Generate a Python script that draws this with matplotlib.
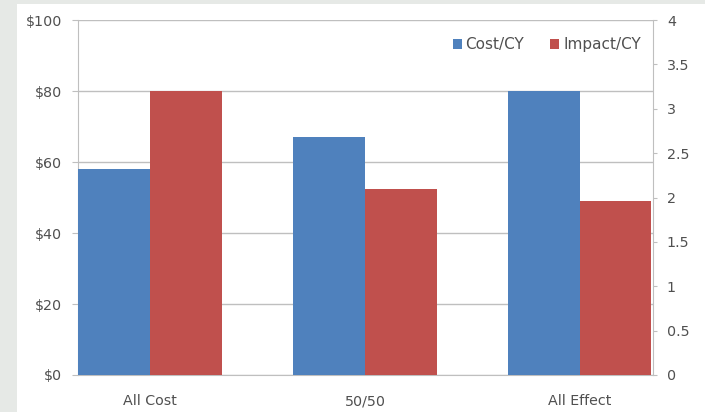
import matplotlib
matplotlib.use("Agg")
import matplotlib.pyplot as plt
from matplotlib.patches import Rectangle
import numpy as np

categories = ["All Cost", "50/50", "All Effect"]
cost_per_cy = [58, 67, 80]          # left axis, dollars
impact_per_cy = [3.2, 2.1, 1.96]    # right axis
left_ticks = [0, 20, 40, 60, 80, 100]
left_labels = ["$0", "$20", "$40", "$60", "$80", "$100"]
right_ticks = [0, 0.5, 1, 1.5, 2, 2.5, 3, 3.5, 4]
right_labels = ["0", "0.5", "1", "1.5", "2", "2.5", "3", "3.5", "4"]

BLUE = "#4F81BD"
RED = "#C0504D"
GRID = "#BFBFBF"
TXT = "#505050"
FS = 10.3
plt.rcParams['font.family'] = ['DejaVu Sans']

W, H = 705, 412
fig = plt.figure(figsize=(W / 100, H / 100), dpi=100)
fig.patch.set_facecolor("white")
fig.patches.append(Rectangle((0, 0), 17 / W, 1, transform=fig.transFigure,
                             facecolor="#E6E9E6", edgecolor="none", zorder=0))
fig.patches.append(Rectangle((0, 1 - 4 / H), 1, 4 / H, transform=fig.transFigure,
                             facecolor="#E6E9E6", edgecolor="none", zorder=0))

left, right, top, bottom = 78, 653, 20, 375
ax = fig.add_axes([left / W, 1 - bottom / H, (right - left) / W, (bottom - top) / H])
ax2 = ax.twinx()

x = np.arange(len(categories))
bw = 0.333
ax.bar(x - bw, cost_per_cy, width=bw, align="edge", color=BLUE, zorder=3, label="Cost/CY")
ax2.bar(x, impact_per_cy, width=bw, align="edge", color=RED, zorder=3, label="Impact/CY")

ax.set_xlim(-0.335, 2.34)
ax.set_ylim(0, 100)
ax2.set_ylim(0, 4)
ax.set_yticks(left_ticks)
ax.set_yticklabels(left_labels)
ax2.set_yticks(right_ticks)
ax2.set_yticklabels(right_labels)
ax.set_xticks(x)
ax.set_xticklabels(categories)

ax.grid(axis="y", color=GRID, linewidth=1, zorder=0)
ax.set_axisbelow(True)
for a in (ax, ax2):
    for s in a.spines.values():
        s.set_visible(False)
ax.spines["left"].set_visible(True)
ax.spines["left"].set_color(GRID)
ax.spines["bottom"].set_visible(True)
ax.spines["bottom"].set_color(GRID)
ax2.spines["right"].set_visible(True)
ax2.spines["right"].set_color(GRID)

ax.tick_params(axis="y", colors=GRID, labelcolor=TXT, labelsize=FS, length=4, pad=7.5)
ax2.tick_params(axis="y", colors=GRID, labelcolor=TXT, labelsize=FS, length=3, pad=7)
ax.tick_params(axis="x", length=0, labelcolor=TXT, labelsize=FS, pad=14)

h1, l1 = ax.get_legend_handles_labels()
h2, l2 = ax2.get_legend_handles_labels()
ax2.legend(h1 + h2, l1 + l2, loc="upper right", bbox_to_anchor=(1.003, 0.99),
           ncol=2, frameon=False, fontsize=11, handlelength=0.6, handleheight=0.6,
           handletextpad=0.25, columnspacing=1.7, labelcolor=TXT)

fig.savefig("out.png", dpi=100)
